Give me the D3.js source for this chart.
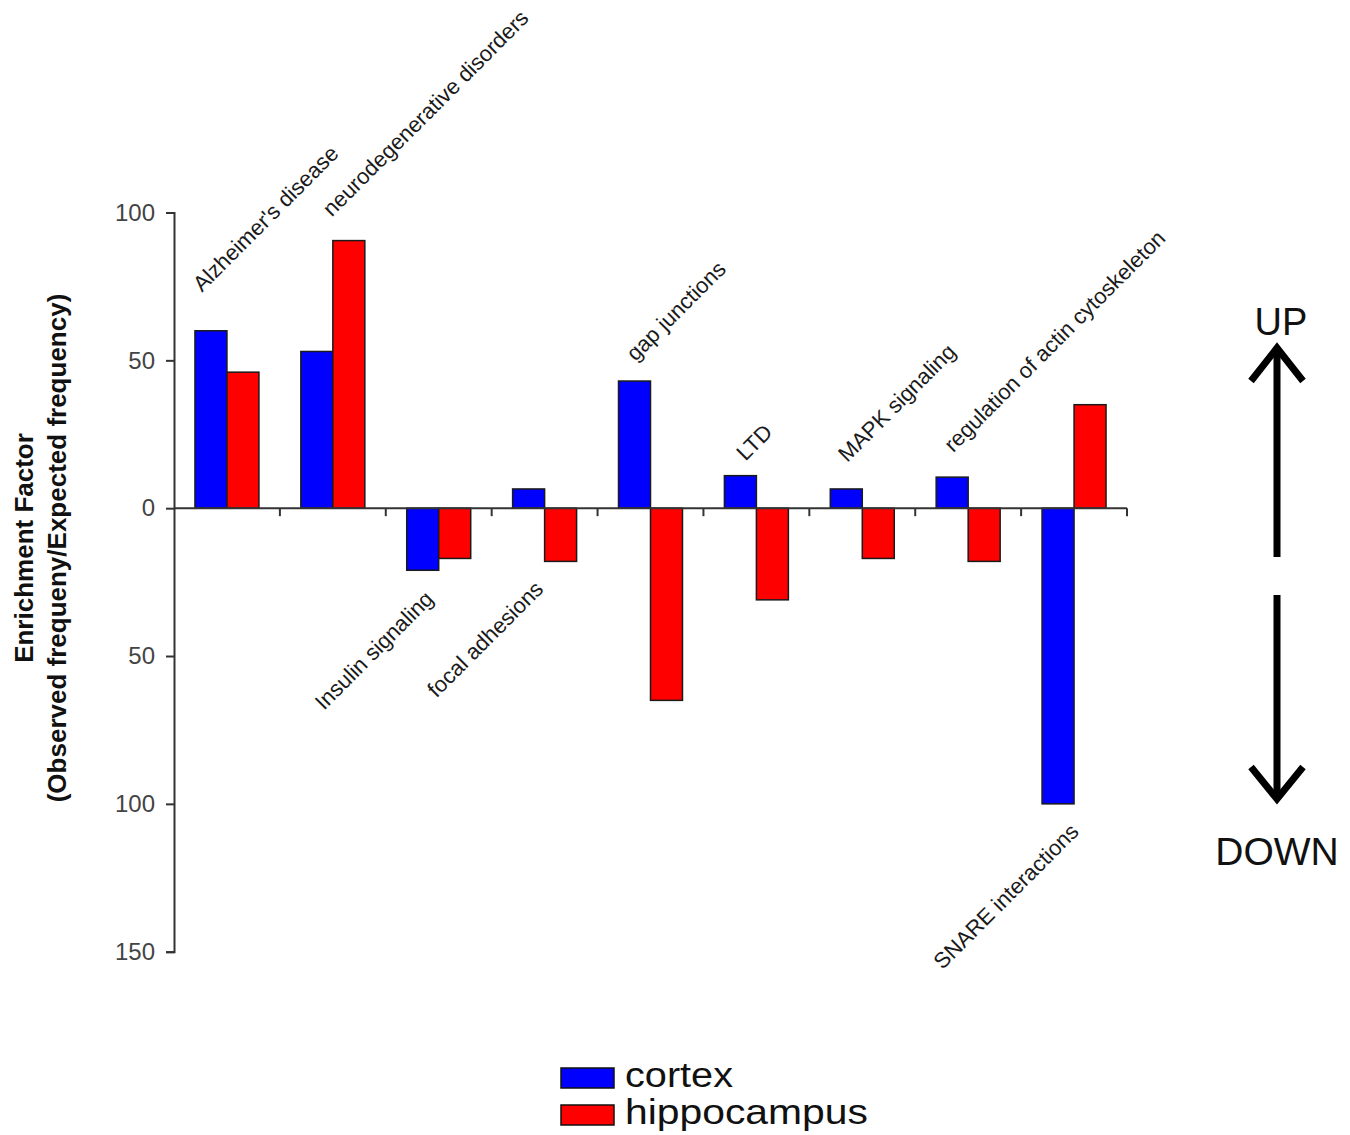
<!DOCTYPE html>
<html>
<head>
<meta charset="utf-8">
<script src="https://cdn.jsdelivr.net/npm/d3@7/dist/d3.min.js"></script>
<style>
  html, body { margin: 0; padding: 0; background: #fff; }
  svg { display: block; font-family: "Liberation Sans", Arial, sans-serif; }
</style>
</head>
<body>
<svg id="chart" width="1350" height="1135"></svg>
<script>
// ---------- data ----------
const categories = [
  "Alzheimer's disease",
  "neurodegenerative disorders",
  "Insulin signaling",
  "focal adhesions",
  "gap junctions",
  "LTD",
  "MAPK signaling",
  "regulation of actin cytoskeleton",
  "SNARE interactions"
];
const series = ["cortex", "hippocampus"];
const cortex      = [60, 53, -21, 6.5, 43, 11, 6.5, 10.5, -100];
const hippocampus = [46, 90.5, -17, -18, -65, -31, -17, -18, 35];
const yTickValues = [100, 50, 0, -50, -100, -150];
const yTickLabels = ["100", "50", "0", "50", "100", "150"];
const labelSide   = ["up", "up", "down", "down", "up", "up", "up", "up", "down"];
const yTitle = ["Enrichment Factor", "(Observed frequeny/Expected frequency)"];

// ---------- layout ----------
const colors = { cortex: "#0000ff", hippocampus: "#ff0000" };
const labelOffset = [[-25, -38], [-1, -23], [-4, 30], [0, 29], [-15, -19], [-11, -14], [-15, -26], [-15, -24], [6, 29]];
const legendTextLength = [108, 243];

const svg = d3.select("#chart");
const y = d3.scaleLinear().domain([-150, 100]).range([951.7, 212.5]);
const x0 = d3.scaleBand().domain(categories).range([174, 1127]).paddingInner(0).paddingOuter(0);
const x1 = d3.scaleBand().domain(series).range([0, x0.bandwidth()]).paddingInner(0).paddingOuter(0.655);

const rows = categories.map((c, i) => ({ cat: c, i, values: [
  { key: "cortex", v: cortex[i] }, { key: "hippocampus", v: hippocampus[i] } ] }));

// bars
const g = svg.append("g");
g.selectAll("g.grp").data(rows).join("g")
  .attr("class", "grp")
  .attr("transform", d => `translate(${x0(d.cat)},0)`)
  .selectAll("rect").data(d => d.values).join("rect")
  .attr("x", d => x1(d.key))
  .attr("width", x1.bandwidth())
  .attr("y", d => y(Math.max(0, d.v)))
  .attr("height", d => Math.abs(y(d.v) - y(0)))
  .attr("fill", d => colors[d.key])
  .attr("stroke", "#1a1a1a")
  .attr("stroke-width", 1.5);

// y axis
const yAxis = d3.axisLeft(y).tickValues(yTickValues).tickSize(8)
  .tickFormat((d, i) => yTickLabels[i]);
const ya = svg.append("g").attr("transform", "translate(174,0)").call(yAxis);
ya.select(".domain").attr("stroke", "#333").attr("stroke-width", 2);
ya.selectAll(".tick line").attr("stroke", "#333").attr("stroke-width", 2);
ya.selectAll(".tick text").attr("x", -19).attr("fill", "#444")
  .style("font-size", "24px").style("font-family", "'Liberation Sans', Arial, sans-serif");

// x axis at zero
const tickPos = d3.range(categories.length + 1).map(k => x0.range()[0] + k * x0.step());
const xa = svg.append("g");
xa.append("line")
  .attr("x1", x0.range()[0]).attr("x2", x0.range()[1])
  .attr("y1", y(0)).attr("y2", y(0))
  .attr("stroke", "#333").attr("stroke-width", 2);
xa.selectAll("line.t").data(tickPos.slice(1)).join("line")
  .attr("class", "t")
  .attr("x1", d => d).attr("x2", d => d)
  .attr("y1", y(0)).attr("y2", y(0) + 8)
  .attr("stroke", "#333").attr("stroke-width", 2);

// category labels
svg.append("g").selectAll("text").data(rows).join("text")
  .attr("transform", d => {
    const cx = x0(d.cat) + x0.bandwidth() / 2;
    const ext = labelSide[d.i] === "up" ? Math.max(...d.values.map(v => v.v)) : Math.min(...d.values.map(v => v.v));
    const [dx, dy] = labelOffset[d.i];
    return `translate(${cx + dx},${y(ext) + dy}) rotate(-45)`;
  })
  .attr("text-anchor", d => labelSide[d.i] === "up" ? "start" : "end")
  .attr("fill", "#1a1a1a")
  .style("font-size", "22px")
  .text(d => d.cat);

// y title
const yt = svg.append("g").attr("transform", "translate(0,548)");
yt.append("text").attr("transform", "translate(33,0) rotate(-90)")
  .attr("text-anchor", "middle").style("font-size", "26px").style("font-weight", "bold")
  .attr("fill", "#111").text(yTitle[0]);
yt.append("text").attr("transform", "translate(66,0) rotate(-90)")
  .attr("text-anchor", "middle").style("font-size", "26px").style("font-weight", "bold")
  .attr("fill", "#111").text(yTitle[1]);

// UP / DOWN arrows
const ar = svg.append("g").attr("stroke", "#000").attr("stroke-width", 7).attr("fill", "none");
ar.append("line").attr("x1", 1277).attr("x2", 1277).attr("y1", 347).attr("y2", 557);
ar.append("path").attr("d", "M1251,381 L1277,348 L1303,381").attr("stroke-linejoin", "miter");
ar.append("line").attr("x1", 1277).attr("x2", 1277).attr("y1", 595).attr("y2", 797);
ar.append("path").attr("d", "M1251,767 L1277,799 L1303,767").attr("stroke-linejoin", "miter");
svg.append("text").attr("x", 1281).attr("y", 335).attr("text-anchor", "middle")
  .style("font-size", "38px").attr("fill", "#111").text("UP");
svg.append("text").attr("x", 1277).attr("y", 865).attr("text-anchor", "middle")
  .style("font-size", "39px").attr("fill", "#111").text("DOWN");

// legend
const lg = svg.append("g").selectAll("g").data(series).join("g")
  .attr("transform", (d, i) => `translate(561,${1068 + i * 37})`);
lg.append("rect").attr("width", 53).attr("height", 20)
  .attr("fill", d => colors[d]).attr("stroke", "#111").attr("stroke-width", 1.5);
lg.append("text").attr("x", 64).attr("y", 19).style("font-size", "35px")
  .attr("textLength", (d, i) => legendTextLength[i]).attr("lengthAdjust", "spacingAndGlyphs")
  .attr("fill", "#111").text(d => d);
</script>
</body>
</html>
